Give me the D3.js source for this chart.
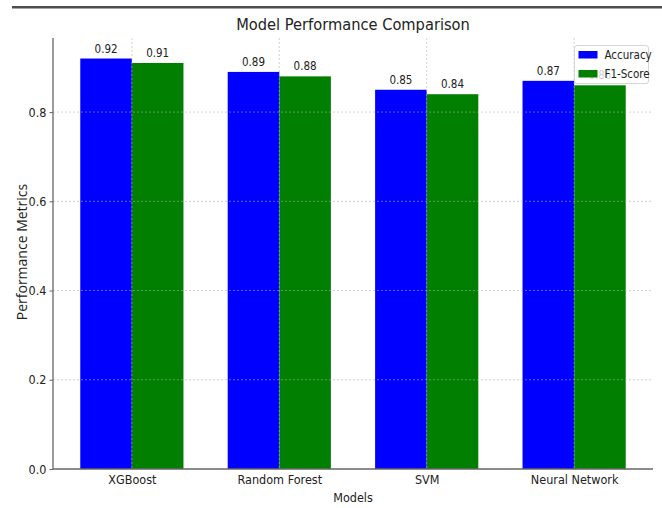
<!DOCTYPE html>
<html>
<head>
<meta charset="utf-8">
<script src="https://cdn.jsdelivr.net/npm/d3@7"></script>
<style>
  html, body { margin: 0; padding: 0; background: #fff; }
  svg { display: block; }
</style>
</head>
<body>
<svg id="chart" width="662" height="508"></svg>
<script>
const models = ["XGBoost", "Random Forest", "SVM", "Neural Network"];
const accuracy = [0.92, 0.89, 0.85, 0.87];
const f1Score = [0.91, 0.88, 0.84, 0.86];
const yTicks = [0.0, 0.2, 0.4, 0.6, 0.8];
const seriesNames = ["Accuracy", "F1-Score"];
const seriesColors = ["#0000ff", "#007f00"];

(function () {
const svg = d3.select("#chart");
const W = 662;
const plotLeft = 53, plotRight = 653, plotTop = 38, plotBottom = 469;
const fam = "'DejaVu Sans Condensed', 'DejaVu Sans', sans-serif";
const textColor = "#222";

// white page background and a thin rule across the top
svg.append("rect").attr("width", W).attr("height", 508).attr("fill", "#fff");
svg.append("rect")
  .attr("x", 12).attr("y", 6).attr("width", W - 12).attr("height", 2.5)
  .attr("fill", "#4d4d4d");

const barW = 0.35;
const x = d3.scaleLinear().domain([-0.535, 3.535]).range([plotLeft, plotRight]);
const y = d3.scaleLinear().domain([0, 0.966]).range([plotBottom, plotTop]);

const series = [accuracy, f1Score];

// bars
series.forEach((vals, s) => {
  svg.append("g").selectAll("rect").data(vals).join("rect")
    .attr("x", (d, i) => x(i + (s === 0 ? -barW : 0)))
    .attr("width", x(barW) - x(0))
    .attr("y", d => y(d))
    .attr("height", d => y(0) - y(d))
    .attr("fill", seriesColors[s]);
});

// grid lines
const grid = svg.append("g").attr("stroke", "#b0b0b0").attr("stroke-width", 0.8)
  .attr("stroke-dasharray", "2,2").attr("opacity", 0.7);
grid.selectAll("line.h").data(yTicks.slice(1)).join("line").attr("class", "h")
  .attr("x1", plotLeft).attr("x2", plotRight)
  .attr("y1", d => y(d)).attr("y2", d => y(d));
grid.selectAll("line.v").data(models).join("line").attr("class", "v")
  .attr("x1", (d, i) => x(i)).attr("x2", (d, i) => x(i))
  .attr("y1", plotTop).attr("y2", plotBottom);

// value labels
series.forEach((vals, s) => {
  svg.append("g").selectAll("text").data(vals).join("text")
    .attr("x", (d, i) => x(i + (s === 0 ? -barW / 2 : barW / 2)))
    .attr("y", d => y(d) - 6)
    .attr("text-anchor", "middle")
    .style("font-family", fam).style("font-size", "11.5px").style("fill", textColor)
    .text(d => d.toFixed(2));
});

// y axis
const yAxis = d3.axisLeft(y).tickValues(yTicks).tickFormat(d3.format(".1f")).tickSize(3.5).tickPadding(3);
const gy = svg.append("g").attr("transform", `translate(${plotLeft},0)`).call(yAxis);
gy.select(".domain").attr("stroke", "#666").attr("stroke-width", 1.3).attr("d", `M0,${plotTop}V${plotBottom}`);
gy.selectAll(".tick line").attr("stroke", "#666");
gy.selectAll(".tick text").style("font-size", "12.5px").style("fill", textColor).style("font-family", fam);

// x axis
const xAxis = d3.axisBottom(x).tickValues(d3.range(models.length)).tickFormat(i => models[i]).tickSize(0).tickPadding(6);
const gx = svg.append("g").attr("transform", `translate(0,${plotBottom})`).call(xAxis);
gx.select(".domain").attr("stroke", "#666").attr("stroke-width", 1.3).attr("d", `M${plotLeft},0H${plotRight}`);
gx.selectAll(".tick text").style("font-size", "12.5px").style("fill", textColor).style("font-family", fam);

// titles
svg.append("text").attr("x", (plotLeft + plotRight) / 2).attr("y", 30)
  .attr("text-anchor", "middle")
  .style("font-family", fam).style("font-size", "16.3px").style("fill", textColor)
  .text("Model Performance Comparison");
svg.append("text").attr("x", (plotLeft + plotRight) / 2).attr("y", 502)
  .attr("text-anchor", "middle")
  .style("font-family", fam).style("font-size", "12.5px").style("fill", textColor)
  .text("Models");
svg.append("text").attr("transform", `translate(27,252) rotate(-90)`)
  .attr("text-anchor", "middle")
  .style("font-family", "'Open Sans', 'Noto Sans', sans-serif").style("font-size", "14px").style("fill", textColor)
  .text("Performance Metrics");

// legend
const lg = svg.append("g").attr("transform", "translate(574.5,45.5)");
lg.append("rect").attr("width", 74).attr("height", 38).attr("rx", 2.5)
  .attr("fill", "#fff").attr("fill-opacity", 0.8).attr("stroke", "#ccc").attr("stroke-width", 0.8);
seriesNames.forEach((name, i) => {
  lg.append("rect").attr("x", 4).attr("y", 5.5 + i * 19).attr("width", 19).attr("height", 7.5)
    .attr("fill", seriesColors[i]);
  lg.append("text").attr("x", 30).attr("y", 13.5 + i * 19)
    .style("font-family", fam).style("font-size", "11.5px").style("fill", textColor)
    .text(name);
});
})();
</script>
</body>
</html>
